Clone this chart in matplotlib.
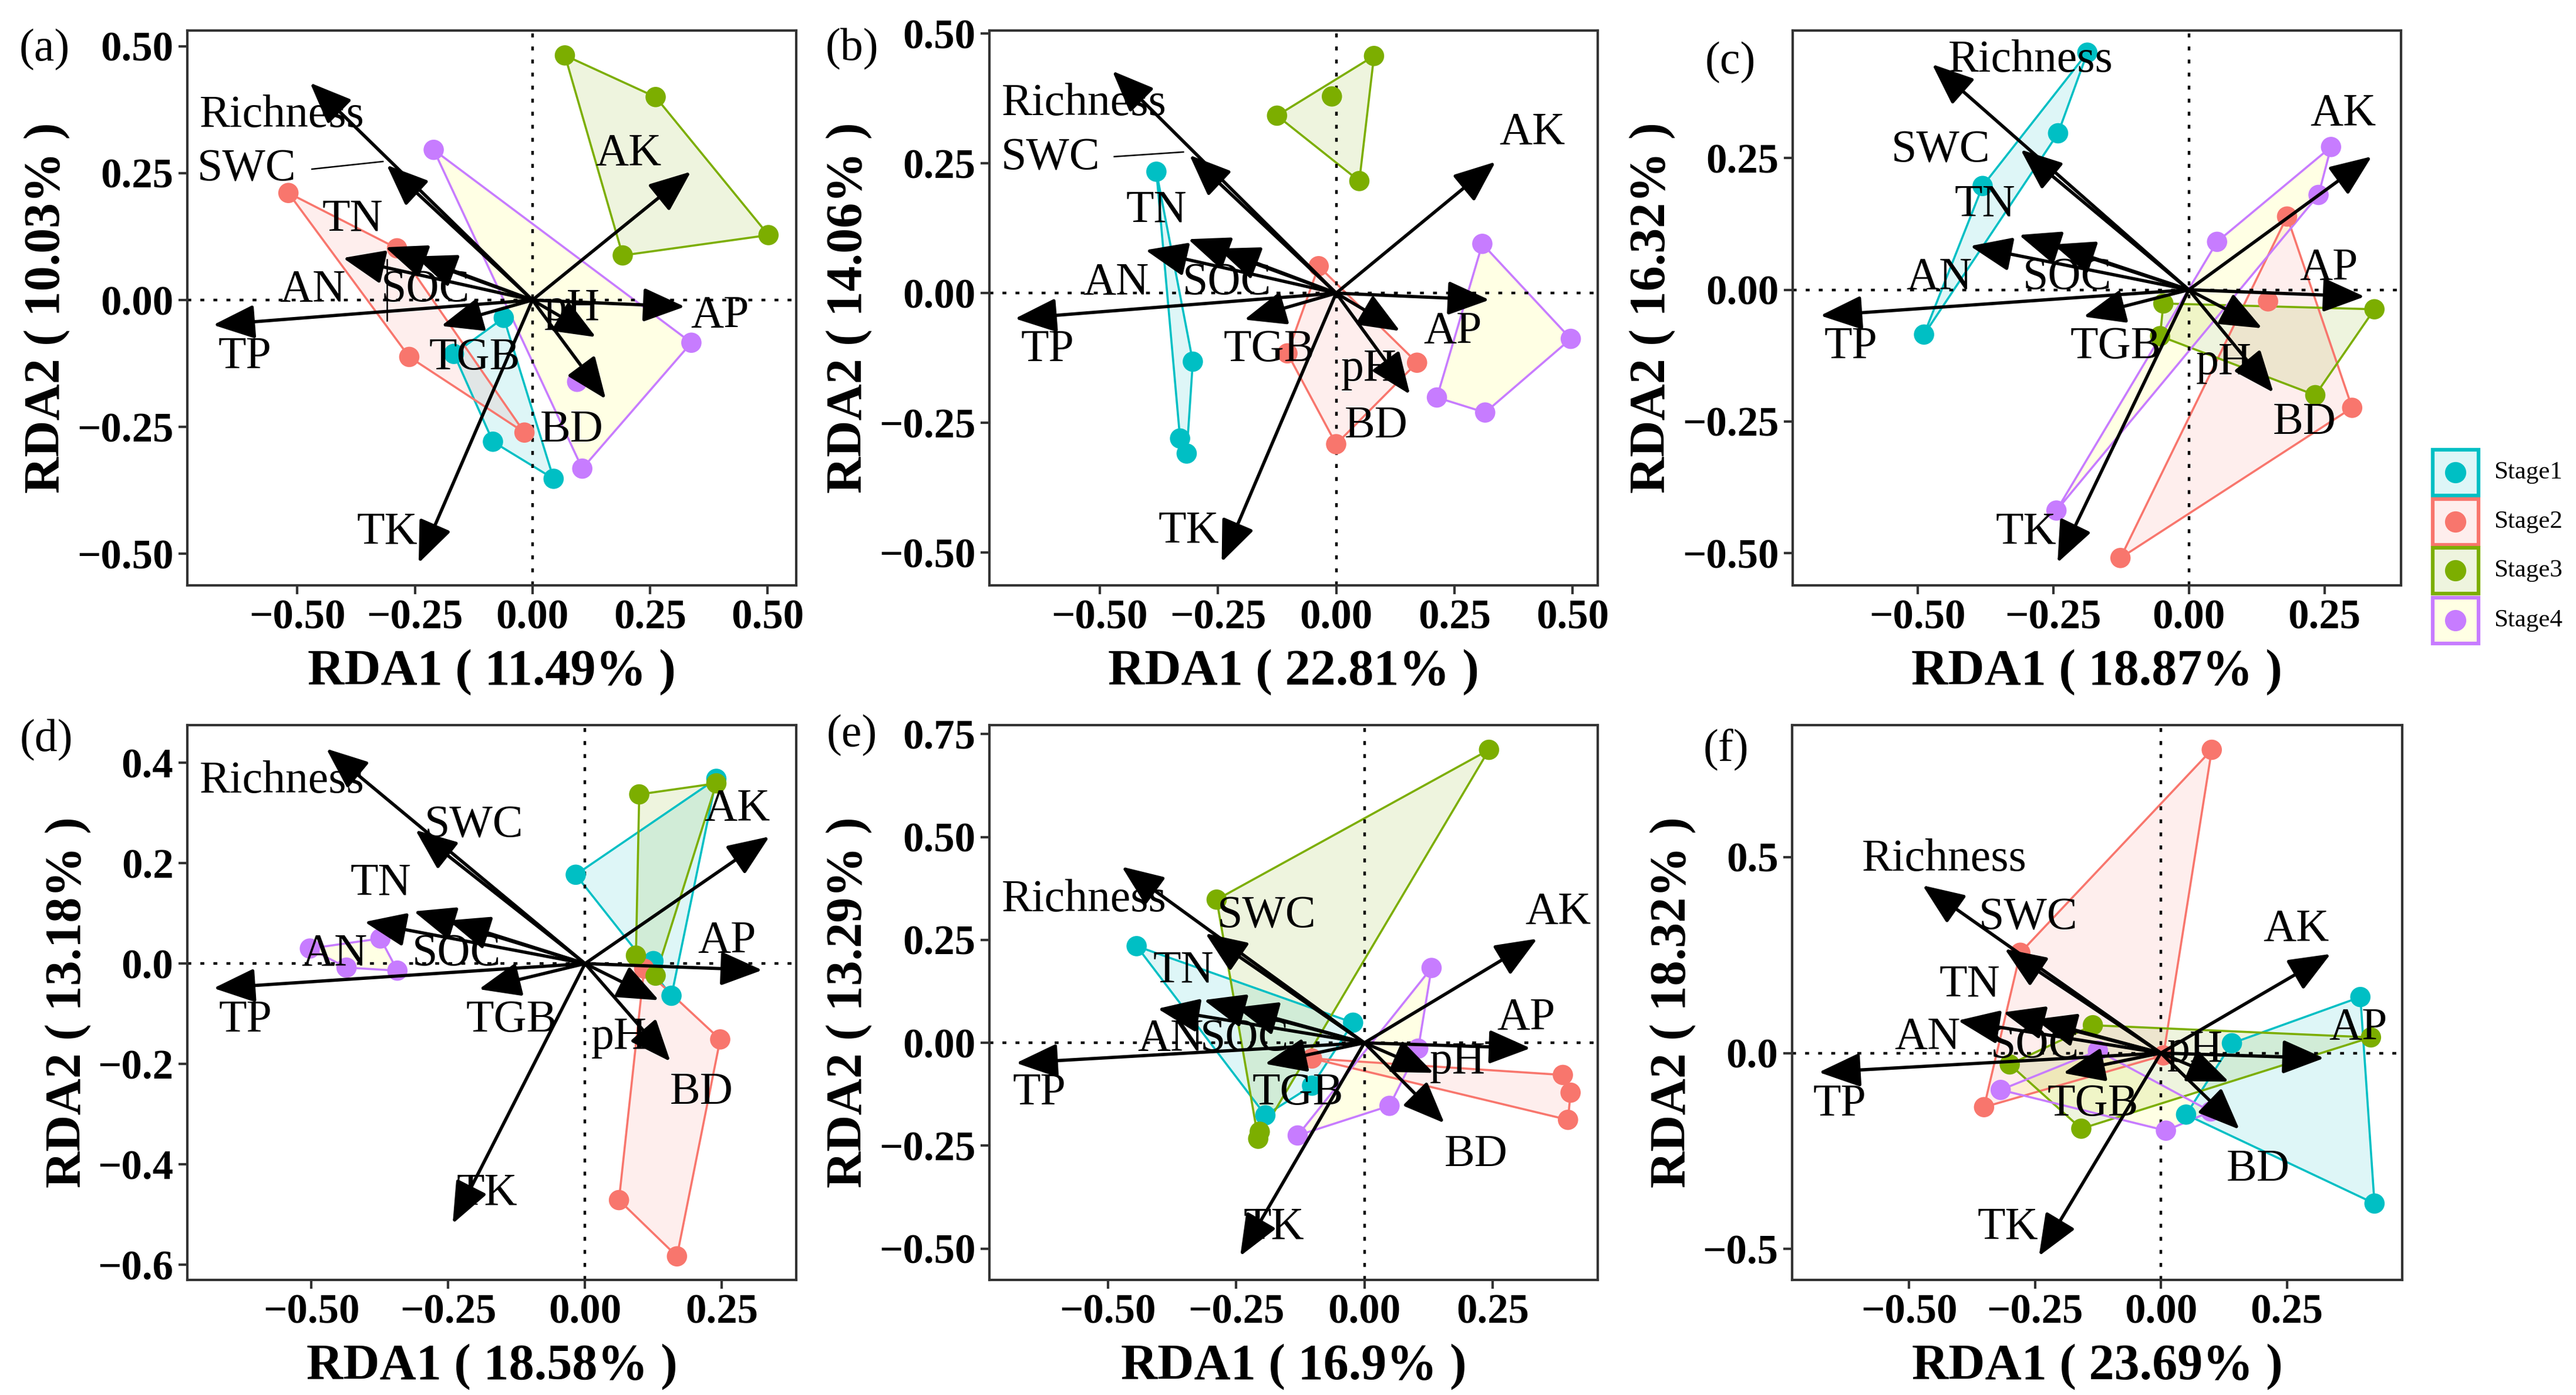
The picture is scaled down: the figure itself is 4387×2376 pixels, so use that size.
import numpy as np
import matplotlib
matplotlib.use("Agg")
import matplotlib.pyplot as plt
from matplotlib.patches import FancyArrowPatch, Polygon, Rectangle

plt.rcParams['font.family'] = ['Liberation Serif', 'DejaVu Serif']

W, H = 4387, 2376
DPI = 100

# ---- data -------------------------------------------------------------
variables = ['Richness', 'SWC', 'TN', 'SOC', 'AN', 'TP', 'TGB', 'TK', 'AK', 'AP', 'pH', 'BD']
arrow_x = [-0.473, -0.310, -0.313, -0.250, -0.403, -0.679, -0.194, -0.242, 0.337, 0.324, 0.135, 0.156]
arrow_y = [0.428, 0.266, 0.104, 0.086, 0.083, -0.049, -0.051, -0.518, 0.253, -0.013, -0.073, -0.195]

stages = ['Stage1', 'Stage2', 'Stage3', 'Stage4']

panels = ['a', 'b', 'c', 'd', 'e', 'f']
rda1_pct = ['11.49', '22.81', '18.87', '18.58', '16.9', '23.69']
rda2_pct = ['10.03', '14.06', '16.32', '13.18', '13.29', '18.32']

# site scores, one list per stage
a_x = [[-0.061, -0.167, -0.084, 0.045], [-0.519, -0.288, -0.262, -0.017],
       [0.069, 0.262, 0.502, 0.192], [-0.210, 0.338, 0.106, 0.095]]
a_y = [[-0.035, -0.106, -0.279, -0.352], [0.211, 0.102, -0.112, -0.261],
       [0.482, 0.400, 0.128, 0.088], [0.296, -0.084, -0.332, -0.161]]

b_x = [[-0.380, -0.303, -0.330, -0.316], [-0.037, 0.171, 0.000, -0.103],
       [0.080, -0.009, -0.125, 0.049], [0.309, 0.496, 0.315, 0.213]]
b_y = [[0.234, -0.132, -0.280, -0.309], [0.052, -0.134, -0.291, -0.116],
       [0.457, 0.379, 0.342, 0.216], [0.095, -0.088, -0.230, -0.201]]

c_x = [[-0.187, -0.241, -0.380, -0.488], [0.181, 0.146, 0.301, -0.126],
       [-0.047, 0.342, 0.233, -0.053], [0.262, 0.239, 0.052, -0.244]]
c_y = [[0.450, 0.297, 0.197, -0.085], [0.139, -0.022, -0.224, -0.509],
       [-0.026, -0.037, -0.200, -0.088], [0.271, 0.180, 0.091, -0.419]]

d_x = [[0.240, -0.017, 0.125, 0.158], [0.108, 0.247, 0.168, 0.062],
       [0.099, 0.240, 0.093, 0.129], [-0.503, -0.374, -0.343, -0.436]]
d_y = [[0.368, 0.177, 0.005, -0.064], [-0.010, -0.151, -0.583, -0.471],
       [0.337, 0.359, 0.016, -0.024], [0.030, 0.050, -0.014, -0.008]]

e_x = [[-0.444, -0.022, -0.102, -0.193], [-0.102, 0.387, 0.402, 0.397],
       [0.243, -0.288, -0.207, -0.204], [0.131, 0.105, 0.049, -0.130]]
e_y = [[0.235, 0.049, -0.104, -0.176], [-0.038, -0.078, -0.121, -0.187],
       [0.712, 0.348, -0.233, -0.216], [0.182, -0.014, -0.153, -0.225]]

f_x = [[0.396, 0.424, 0.050, 0.141], [0.101, -0.279, -0.351, 0.005],
       [-0.135, 0.417, -0.158, -0.300], [-0.318, -0.125, 0.010, 0.099]]
f_y = [[0.143, -0.384, -0.157, 0.025], [0.774, 0.256, -0.138, -0.006],
       [0.071, 0.040, -0.193, -0.029], [-0.094, 0.006, -0.198, -0.149]]

site_x = [a_x, b_x, c_x, d_x, e_x, f_x]
site_y = [a_y, b_y, c_y, d_y, e_y, f_y]

x_ticks = [[-0.5, -0.25, 0, 0.25, 0.5], [-0.5, -0.25, 0, 0.25, 0.5], [-0.5, -0.25, 0, 0.25],
           [-0.5, -0.25, 0, 0.25], [-0.5, -0.25, 0, 0.25], [-0.5, -0.25, 0, 0.25]]
y_ticks = [[-0.5, -0.25, 0, 0.25, 0.5], [-0.5, -0.25, 0, 0.25, 0.5], [-0.5, -0.25, 0, 0.25],
           [-0.6, -0.4, -0.2, 0, 0.2, 0.4], [-0.5, -0.25, 0, 0.25, 0.5, 0.75], [-0.5, 0, 0.5]]
y_decimals = [2, 2, 2, 1, 2, 1]

# ---- layout / style ---------------------------------------------------
stage_colors = ['#00BFC4', '#F8766D', '#7CAE00', '#C77CFF']
stage_fills = ['#00BFC4', '#F8766D', '#7CAE00', '#FFFF40']
fill_alpha = [0.13, 0.12, 0.13, 0.14]

xlims = [(-0.734, 0.561), (-0.733, 0.553), (-0.730, 0.391),
         (-0.727, 0.386), (-0.731, 0.455), (-0.732, 0.479)]
ylims = [(-0.562, 0.531), (-0.563, 0.506), (-0.561, 0.492),
         (-0.630, 0.475), (-0.576, 0.772), (-0.579, 0.837)]

# axes boxes in pixels: left, top, width, height
boxes = [(319, 52, 1037, 945), (1685, 52, 1036, 945), (3053, 52, 1036, 945),
         (319, 1235, 1037, 945), (1685, 1235, 1036, 945), (3052, 1235, 1039, 945)]
tag_pos = [(76, 85), (1451, 84), (2947, 107), (79, 1261), (1451, 1253), (2939, 1276)]

label_pos = [
    {'Richness': (-0.533, 0.363), 'SWC': (-0.608, 0.257), 'TN': (-0.383, 0.159), 'AN': (-0.467, 0.019),
     'SOC': (-0.227, 0.019), 'TP': (-0.612, -0.112), 'TGB': (-0.123, -0.115), 'pH': (0.084, -0.018),
     'AP': (0.398, -0.031), 'AK': (0.204, 0.288), 'BD': (0.084, -0.257), 'TK': (-0.309, -0.458)},
    {'Richness': (-0.533, 0.364), 'SWC': (-0.604, 0.260), 'TN': (-0.380, 0.159), 'AN': (-0.466, 0.019),
     'SOC': (-0.231, 0.019), 'TP': (-0.610, -0.110), 'TGB': (-0.142, -0.110), 'pH': (0.069, -0.147),
     'AP': (0.246, -0.075), 'AK': (0.415, 0.309), 'BD': (0.085, -0.257), 'TK': (-0.312, -0.459)},
    {'Richness': (-0.292, 0.435), 'SWC': (-0.457, 0.264), 'TN': (-0.376, 0.161), 'AN': (-0.460, 0.023),
     'SOC': (-0.224, 0.023), 'TP': (-0.623, -0.109), 'TGB': (-0.135, -0.109), 'pH': (0.065, -0.139),
     'AP': (0.258, 0.040), 'AK': (0.284, 0.333), 'BD': (0.213, -0.253), 'TK': (-0.300, -0.460)},
    {'Richness': (-0.554, 0.362), 'SWC': (-0.203, 0.274), 'TN': (-0.374, 0.159), 'AN': (-0.458, 0.019),
     'SOC': (-0.235, 0.019), 'TP': (-0.621, -0.113), 'TGB': (-0.134, -0.114), 'pH': (0.062, -0.147),
     'AP': (0.259, 0.044), 'AK': (0.278, 0.307), 'BD': (0.213, -0.257), 'TK': (-0.179, -0.458)},
    {'Richness': (-0.547, 0.346), 'SWC': (-0.191, 0.308), 'TN': (-0.353, 0.174), 'AN': (-0.378, 0.008),
     'SOC': (-0.234, 0.008), 'TP': (-0.634, -0.123), 'TGB': (-0.130, -0.123), 'pH': (0.182, -0.047),
     'AP': (0.315, 0.060), 'AK': (0.378, 0.317), 'BD': (0.218, -0.273), 'TK': (-0.176, -0.449)},
    {'Richness': (-0.430, 0.493), 'SWC': (-0.263, 0.344), 'TN': (-0.380, 0.174), 'AN': (-0.464, 0.040),
     'SOC': (-0.250, 0.017), 'TP': (-0.638, -0.132), 'TGB': (-0.135, -0.132), 'pH': (0.068, 0.006),
     'AP': (0.391, 0.063), 'AK': (0.269, 0.315), 'BD': (0.193, -0.298), 'TK': (-0.304, -0.445)},
]
# ggrepel-like connector segments (x0, y0, x1, y1)
connectors = [
    [(-0.469, 0.258, -0.318, 0.273), (-0.309, 0.080, -0.309, -0.040)],
    [(-0.469, 0.263, -0.323, 0.272)],
    [], [], [], [],
]


def convex_hull(xs, ys):
    pts = sorted(set(zip(xs, ys)))
    if len(pts) < 3:
        return pts

    def cross(o, a, b):
        return (a[0] - o[0]) * (b[1] - o[1]) - (a[1] - o[1]) * (b[0] - o[0])
    lower, upper = [], []
    for p in pts:
        while len(lower) >= 2 and cross(lower[-2], lower[-1], p) <= 0:
            lower.pop()
        lower.append(p)
    for p in reversed(pts):
        while len(upper) >= 2 and cross(upper[-2], upper[-1], p) <= 0:
            upper.pop()
        upper.append(p)
    return lower[:-1] + upper[:-1]


def fmt(v, nd):
    return f"{v:.{nd}f}".replace('-', '\u2212')


fig = plt.figure(figsize=(W / DPI, H / DPI), dpi=DPI)

for i, p in enumerate(panels):
    l, t, w, h = boxes[i]
    ax = fig.add_axes([l / W, 1 - (t + h) / H, w / W, h / H])
    ax.set_xlim(*xlims[i])
    ax.set_ylim(*ylims[i])

    for s in range(4):
        hull = convex_hull(site_x[i][s], site_y[i][s])
        ax.add_patch(Polygon(hull, closed=True, facecolor=stage_fills[s], alpha=fill_alpha[s],
                             edgecolor='none', zorder=1))
        ax.add_patch(Polygon(hull, closed=True, facecolor='none', edgecolor=stage_colors[s],
                             lw=2.6, zorder=1.2))
    for s in range(4):
        ax.scatter(site_x[i][s], site_y[i][s], s=620, color=stage_colors[s], edgecolors='none', zorder=3)

    ax.axhline(0, color='black', lw=3.2, ls=(0, (1.5, 3.5)), zorder=2)
    ax.axvline(0, color='black', lw=3.2, ls=(0, (1.5, 3.5)), zorder=2)

    for v in range(len(variables)):
        arr = FancyArrowPatch((0, 0), (arrow_x[v], arrow_y[v]),
                              arrowstyle='-|>,head_length=2.2,head_width=0.9',
                              mutation_scale=20, color='black', lw=4.0,
                              shrinkA=0, shrinkB=0, zorder=4)
        ax.add_patch(arr)

    for x0, y0, x1, y1 in connectors[i]:
        ax.plot([x0, x1], [y0, y1], color='black', lw=1.8, zorder=4)

    for name, (tx, ty) in label_pos[i].items():
        ax.text(tx, ty, name, fontsize=56, ha='center', va='center', color='black', zorder=5)

    ax.set_xticks(x_ticks[i])
    ax.set_xticklabels([fmt(v, 2) for v in x_ticks[i]])
    ax.set_yticks(y_ticks[i])
    ax.set_yticklabels([fmt(v, y_decimals[i]) for v in y_ticks[i]])
    ax.tick_params(axis='both', length=11, width=3, color='#333333', labelsize=51, pad=6)
    for lab in ax.get_xticklabels() + ax.get_yticklabels():
        lab.set_fontweight('bold')
    for sp in ax.spines.values():
        sp.set_color('#333333')
        sp.set_linewidth(3)

    ax.set_xlabel(f'RDA1 ( {rda1_pct[i]}% )', fontsize=62, fontweight='bold', labelpad=14)
    ax.set_ylabel(f'RDA2 ( {rda2_pct[i]}% )', fontsize=62, fontweight='bold', labelpad=8)

    fig.text(tag_pos[i][0] / W, 1 - tag_pos[i][1] / H, f'({p})', fontsize=56,
             ha='center', va='center')

# legend drawn in pixel space
lg = fig.add_axes([0, 0, 1, 1])
lg.set_xlim(0, W)
lg.set_ylim(H, 0)
lg.axis('off')
key_y = [805, 889, 972, 1057]
for s in range(4):
    lg.add_patch(Rectangle((4143, key_y[s] - 39), 78, 78, facecolor='white', edgecolor='none'))
    lg.add_patch(Rectangle((4143, key_y[s] - 39), 78, 78, facecolor=stage_fills[s],
                           alpha=fill_alpha[s], edgecolor='none'))
    lg.add_patch(Rectangle((4143, key_y[s] - 39), 78, 78, facecolor='none',
                           edgecolor=stage_colors[s], lw=4.5))
    lg.scatter([4182], [key_y[s]], s=680, color=stage_colors[s], edgecolors='none')
    lg.text(4247, key_y[s], stages[s], fontsize=31, ha='left', va='center')

fig.savefig('out.png', dpi=DPI)
